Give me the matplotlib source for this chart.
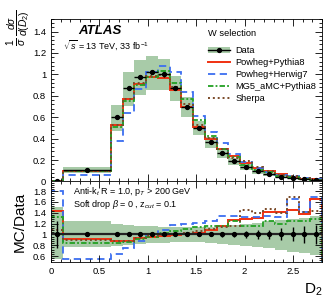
import matplotlib
matplotlib.use('Agg')
import matplotlib.pyplot as plt
import numpy as np
from matplotlib.patches import Patch
from matplotlib.lines import Line2D
from matplotlib.ticker import MultipleLocator, FuncFormatter

plt.rcParams['font.family'] = ['Liberation Sans', 'DejaVu Sans']
plt.rcParams['mathtext.fontset'] = 'custom'
plt.rcParams['mathtext.rm'] = 'Liberation Sans'
plt.rcParams['mathtext.it'] = 'Liberation Sans:italic'
plt.rcParams['mathtext.bf'] = 'Liberation Sans:bold'

# bin edges of D2
edges = [0, 0.12, 0.62, 0.741, 0.862, 0.984, 1.105, 1.226, 1.347, 1.468, 1.589,
         1.711, 1.832, 1.953, 2.074, 2.195, 2.316, 2.437, 2.558, 2.679, 2.8]

# unfolded data, 1/sigma dsigma/dD2
data = [0.005, 0.11, 0.60, 0.87, 0.977, 1.02, 1.00, 0.87, 0.70, 0.50, 0.367,
        0.265, 0.188, 0.135, 0.095, 0.068, 0.046, 0.031, 0.020, 0.012]
# relative stat. error (error bars)
stat_rel = [0.25, 0.03, 0.02, 0.02, 0.02, 0.02, 0.02, 0.02, 0.02, 0.03, 0.03,
            0.04, 0.05, 0.06, 0.08, 0.09, 0.11, 0.13, 0.15, 0.18]
# relative total uncertainty band
band_up = [0.50, 0.24, 0.19, 0.17, 0.16, 0.15, 0.14, 0.13, 0.13, 0.13, 0.14,
           0.15, 0.17, 0.19, 0.21, 0.24, 0.26, 0.28, 0.31, 0.34]
band_dn = [0.45, 0.24, 0.21, 0.19, 0.17, 0.16, 0.15, 0.14, 0.14, 0.14, 0.15,
           0.17, 0.19, 0.21, 0.23, 0.26, 0.29, 0.32, 0.35, 0.38]

# MC / data
r_pp8 = [1.43, 0.91, 0.88, 0.88, 0.93, 0.96, 0.97, 0.98, 1.00, 1.02, 1.08,
         1.15, 1.26, 1.28, 1.30, 1.42, 1.42, 1.45, 1.37, 1.66]
r_ph7 = [1.80, 0.54, 0.63, 0.74, 0.88, 1.00, 1.08, 1.18, 1.20, 1.22, 1.25,
         1.34, 1.34, 1.32, 1.33, 1.34, 1.33, 1.66, 1.42, 1.70]
r_mg5 = [1.33, 0.85, 0.85, 0.86, 0.92, 0.96, 1.03, 1.06, 1.10, 1.14, 1.16,
         1.15, 1.24, 1.16, 1.16, 1.24, 1.20, 1.24, 1.25, 1.28]
r_she = [1.08, 0.89, 0.88, 0.88, 0.94, 0.97, 0.99, 1.01, 1.03, 1.06, 1.10,
         1.14, 1.15, 1.45, 1.40, 1.47, 1.40, 1.70, 1.42, 1.43]

labels = ['Powheg+Pythia8', 'Powheg+Herwig7', 'MG5_aMC+Pythia8', 'Sherpa']
colors = ['#f03010', '#3c6ef0', '#22a022', '#7a4a28']
styles = ['-', (0, (4, 2.5)), (0, (3, 1.2, 1, 1.2)), (0, (1, 1.5))]
widths = [1.4, 1.3, 1.3, 1.4]
band_col = '#a8cba8'

e = np.array(edges)
d = np.array(data)
cen = 0.5 * (e[1:] + e[:-1])
hw = 0.5 * (e[1:] - e[:-1])
ratios = [np.array(r) for r in (r_pp8, r_ph7, r_mg5, r_she)]

fig = plt.figure(figsize=(3.33, 2.97), dpi=100)
ax = fig.add_axes([0.153, 0.389, 0.814, 0.548])
axr = fig.add_axes([0.153, 0.118, 0.814, 0.271], sharex=ax)

# main panel
ax.stairs(d * (1 + np.array(band_up)), e, baseline=d * (1 - np.array(band_dn)),
          fill=True, color=band_col, lw=0)
for r, c, ls, lw in zip(ratios, colors, styles, widths):
    ax.stairs(d * r, e, color=c, ls=ls, lw=lw)
ax.errorbar(cen, d, xerr=hw, yerr=d * np.array(stat_rel), fmt='o', color='k',
            ms=2.8, lw=1.0, capsize=0)

# ratio panel
axr.stairs(1 + np.array(band_up), e, baseline=1 - np.array(band_dn),
           fill=True, color=band_col, lw=0)
axr.axhline(1, color='#222222', lw=1.6)
for r, c, ls, lw in zip(ratios, colors, styles, widths):
    axr.stairs(r, e, color=c, ls=ls, lw=lw)
axr.errorbar(cen, np.ones_like(cen), yerr=np.array(stat_rel), fmt='o',
             color='k', ms=2.8, lw=1.0, capsize=0)

fmt = FuncFormatter(lambda v, p: '%g' % round(v, 3))
for a in (ax, axr):
    a.set_xlim(0, 2.8)
    a.xaxis.set_major_locator(MultipleLocator(0.5))
    a.xaxis.set_minor_locator(MultipleLocator(0.1))
    a.yaxis.set_minor_locator(MultipleLocator(0.04))
    a.yaxis.set_major_formatter(fmt)
    a.xaxis.set_major_formatter(fmt)
    a.tick_params(which='both', direction='in', top=True, right=True,
                  labelsize=6.8, width=0.6)
    a.tick_params(which='major', length=5)
    a.tick_params(which='minor', length=2.5)
    for s in a.spines.values():
        s.set_linewidth(0.6)

ax.set_ylim(0, 1.52)
ax.yaxis.set_major_locator(MultipleLocator(0.2))
ax.tick_params(labelbottom=False)
axr.set_ylim(0.49, 1.98)
axr.yaxis.set_major_locator(MultipleLocator(0.2))

fig.text(0.055, 0.905, r'$\frac{1}{\sigma}\,\frac{d\sigma}{d(D_2)}$',
         fontsize=10.5, rotation=90, ha='center', va='center')
fig.text(0.06, 0.254, 'MC/Data', fontsize=11, rotation=90, ha='center',
         va='center')
axr.set_xlabel(r'D$_2$', fontsize=11, loc='right')

ax.text(0.10, 0.925, 'ATLAS', transform=ax.transAxes, fontsize=9.5,
        fontweight='bold', fontstyle='italic', va='center')
ax.text(0.045, 0.838, r'$\sqrt{s}$ = 13 TeV, 33 fb$^{-1}$',
        transform=ax.transAxes, fontsize=6.5, va='center')
ax.text(0.579, 0.912, 'W selection', transform=ax.transAxes, fontsize=6.7,
        va='center')

handles = [(Patch(facecolor=band_col, lw=0),
            Line2D([], [], color='k', marker='o', ms=2.8, lw=1.0))]
for c, ls, lw in zip(colors, styles, widths):
    handles.append(Line2D([], [], color=c, ls=ls, lw=lw))
ax.legend(handles, ['Data'] + labels, loc='upper left',
          bbox_to_anchor=(0.565, 0.855), frameon=False, fontsize=6.7,
          handlelength=2.4, handletextpad=0.6, labelspacing=0.33,
          borderaxespad=0)

axr.text(0.08, 0.87, r'Anti-k$_t$ R = 1.0, p$_T$ > 200 GeV',
         transform=axr.transAxes, fontsize=6.5, va='center')
axr.text(0.08, 0.71, r'Soft drop $\beta$ = 0 , z$_{cut}$ = 0.1',
         transform=axr.transAxes, fontsize=6.5, va='center')

fig.savefig('out.png', dpi=100)
